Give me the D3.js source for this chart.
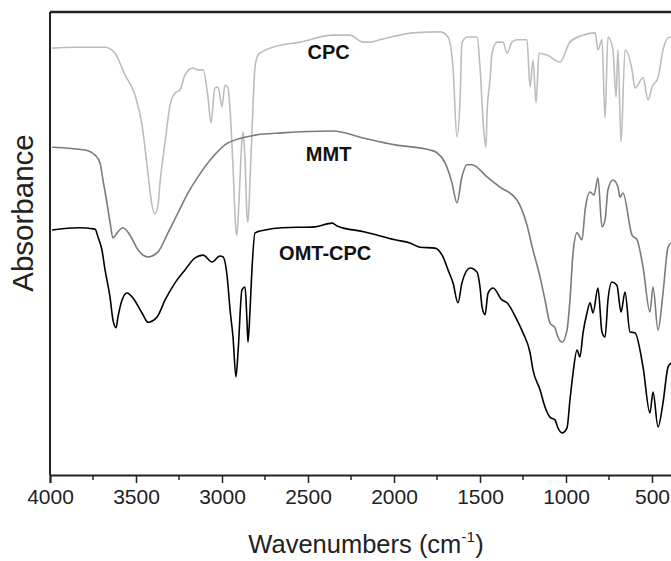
<!DOCTYPE html>
<html>
<head>
<meta charset="utf-8">
<script src="https://cdn.jsdelivr.net/npm/d3@7"></script>
<style>
  html, body { margin: 0; padding: 0; background: #fff; }
  svg { display: block; font-family: Arial, 'Liberation Sans', sans-serif; }
</style>
</head>
<body>
<svg id="chart" width="671" height="561"></svg>
<script>
// wavenumbers (cm-1) and absorbance (a.u., stacked)
const cpcWn = [3988, 3855, 3680, 3622, 3564, 3506, 3465, 3436, 3407, 3390, 3372, 3360, 3331, 3302, 3273, 3244, 3215, 3169, 3140, 3110, 3081, 3064, 3041, 3023, 3000, 2983, 2965, 2953, 2936, 2919, 2913, 2901, 2884, 2878, 2866, 2855, 2849, 2837, 2826, 2808, 2791, 2767, 2703, 2547, 2355, 2256, 2180, 2140, 2081, 1890, 1733, 1686, 1657, 1634, 1616, 1605, 1576, 1517, 1500, 1477, 1465, 1459, 1442, 1430, 1401, 1366, 1343, 1314, 1285, 1227, 1209, 1192, 1174, 1157, 1110, 1035, 977, 901, 831, 814, 791, 773, 756, 727, 709, 698, 680, 657, 616, 599, 552, 523, 500, 465, 436, 407, 390]
const cpcAbs = [92.2, 92.4, 92.4, 91.1, 86.4, 82.1, 75.6, 67.0, 58.3, 56.4, 58.3, 63.3, 71.9, 79.9, 82.5, 83.2, 86.4, 87.9, 87.5, 87.5, 81.4, 76.0, 83.6, 83.8, 79.5, 84.2, 83.6, 78.8, 66.5, 52.9, 51.8, 59.4, 72.4, 74.1, 68.0, 56.2, 54.6, 63.7, 73.9, 88.1, 90.7, 91.4, 92.4, 93.5, 95.0, 95.0, 93.5, 93.5, 94.0, 95.5, 95.7, 94.6, 88.1, 73.0, 81.0, 93.3, 94.6, 94.6, 88.1, 73.9, 70.8, 78.2, 85.3, 91.1, 93.5, 93.5, 91.1, 93.5, 94.0, 94.0, 83.8, 89.6, 80.4, 91.1, 90.7, 89.2, 93.5, 95.0, 95.5, 91.8, 94.0, 77.1, 94.6, 91.8, 81.6, 91.8, 71.9, 91.8, 87.5, 83.6, 85.8, 81.0, 83.8, 85.8, 91.8, 94.4, 94.6]

const mmtWn = [3988, 3797, 3738, 3709, 3692, 3669, 3651, 3634, 3610, 3576, 3535, 3488, 3430, 3372, 3314, 3256, 3198, 3140, 3058, 2983, 2884, 2808, 2651, 2355, 2180, 1994, 1791, 1750, 1703, 1663, 1634, 1605, 1576, 1547, 1459, 1384, 1285, 1227, 1192, 1151, 1122, 1093, 1064, 1047, 1023, 994, 977, 959, 936, 907, 889, 860, 837, 814, 791, 773, 756, 727, 698, 686, 669, 616, 587, 552, 512, 494, 465, 436, 407, 390]
const mmtAbs = [70.8, 70.2, 69.1, 67.4, 63.7, 58.8, 54.6, 51.2, 52.3, 53.4, 51.8, 48.6, 47.1, 48.2, 52.3, 56.6, 60.9, 64.4, 68.5, 71.3, 72.8, 73.4, 73.9, 74.3, 72.8, 71.3, 70.2, 69.6, 67.4, 63.1, 58.8, 64.4, 67.0, 67.0, 64.4, 62.2, 59.4, 54.0, 48.6, 42.8, 37.8, 32.8, 31.8, 29.8, 28.7, 31.3, 37.8, 48.0, 52.3, 50.8, 57.2, 61.1, 60.5, 64.2, 53.6, 55.1, 61.6, 63.7, 62.2, 60.0, 60.9, 51.8, 50.8, 44.9, 35.2, 40.6, 31.3, 39.3, 49.2, 50.1]

const omtWn = [3988, 3837, 3738, 3721, 3698, 3680, 3651, 3634, 3616, 3605, 3581, 3552, 3517, 3465, 3430, 3378, 3331, 3273, 3215, 3157, 3110, 3058, 3012, 2994, 2971, 2953, 2936, 2919, 2907, 2884, 2866, 2855, 2849, 2837, 2826, 2808, 2750, 2651, 2459, 2360, 2331, 2169, 1994, 1907, 1849, 1762, 1715, 1686, 1657, 1628, 1605, 1558, 1517, 1500, 1488, 1471, 1453, 1424, 1372, 1343, 1285, 1250, 1209, 1192, 1151, 1122, 1093, 1064, 1047, 1023, 994, 977, 959, 936, 919, 901, 878, 860, 843, 814, 791, 773, 756, 733, 704, 680, 657, 628, 599, 552, 512, 494, 465, 436, 407, 390]
const omtAbs = [52.9, 53.4, 53.1, 51.4, 48.6, 44.3, 38.4, 33.5, 31.8, 34.1, 37.8, 39.3, 38.2, 35.0, 33.0, 34.1, 37.8, 41.5, 44.3, 46.9, 47.5, 46.0, 47.3, 47.1, 43.2, 35.6, 29.8, 21.2, 26.4, 40.0, 40.6, 33.5, 28.7, 35.6, 44.3, 52.3, 52.9, 53.4, 53.6, 54.4, 53.8, 52.5, 50.8, 50.1, 49.2, 49.0, 47.1, 44.3, 41.5, 37.2, 41.5, 44.7, 43.8, 40.6, 36.3, 34.6, 39.3, 40.4, 37.8, 37.2, 33.5, 30.7, 26.4, 22.7, 18.4, 14.7, 12.5, 11.9, 10.2, 9.1, 10.2, 16.2, 22.0, 27.0, 25.5, 30.7, 35.0, 37.2, 35.0, 40.4, 30.9, 29.8, 37.8, 41.7, 41.0, 35.2, 39.5, 30.9, 30.7, 23.3, 13.4, 17.9, 10.4, 15.6, 23.3, 24.2]

const seriesNames = ['CPC', 'MMT', 'OMT-CPC']
const xTicks = [4000, 3500, 3000, 2500, 2000, 1500, 1000, 500]
const xMinorTicks = [3750, 3250, 2750, 2250, 1750, 1250, 750]

const margin = { top: 12, left: 50, bottom: 86 }
const width = 671
const height = 561
const _h = height - margin.top - margin.bottom

const svg = d3.select('#chart')

const x = d3.scaleLinear().domain([4000, 380]).range([margin.left, margin.left + 3620 * 0.172])
const y = d3.scaleLinear().domain([0, 100]).range([margin.top + _h, margin.top])

const series = [
  { name: seriesNames[0], wn: cpcWn, ab: cpcAbs, color: '#bdbdbd', labelWn: 2380, labelAb: 89.8 },
  { name: seriesNames[1], wn: mmtWn, ab: mmtAbs, color: '#7b7b7b', labelWn: 2380, labelAb: 67.8 },
  { name: seriesNames[2], wn: omtWn, ab: omtAbs, color: '#000', labelWn: 2400, labelAb: 46.4 },
]

const line = d3.line()
  .x((d) => x(d[0]))
  .y((d) => y(d[1]))
  .curve(d3.curveMonotoneX)

svg.append('g')
  .selectAll('path')
  .data(series)
  .join('path')
  .attr('fill', 'none')
  .attr('stroke', (d) => d.color)
  .attr('stroke-width', 1.6)
  .attr('stroke-linejoin', 'round')
  .attr('d', (d) => line(d3.zip(d.wn, d.ab)))

svg.append('g')
  .selectAll('text')
  .data(series)
  .join('text')
  .attr('x', (d) => x(d.labelWn))
  .attr('y', (d) => y(d.labelAb))
  .attr('text-anchor', 'middle')
  .attr('font-weight', 'bold')
  .attr('font-size', 20)
  .attr('fill', '#111')
  .text((d) => d.name)

// frame: top, left, bottom
svg.append('line')
  .attr('x1', margin.left).attr('x2', width)
  .attr('y1', y(100)).attr('y2', y(100))
  .attr('stroke', '#222').attr('stroke-width', 2.5)

svg.append('line')
  .attr('x1', margin.left).attr('x2', margin.left)
  .attr('y1', y(100)).attr('y2', y(0))
  .attr('stroke', '#222').attr('stroke-width', 2)

const xAxis = d3.axisBottom(x).tickValues(xTicks).tickSize(8).tickPadding(6).tickFormat(d3.format('d'))

const gx = svg.append('g')
  .attr('transform', `translate(0,${y(0)})`)
  .call(xAxis)
gx.select('.domain').attr('stroke', '#222').attr('stroke-width', 2)
gx.selectAll('.tick line').attr('stroke', '#222').attr('stroke-width', 1.5)
gx.selectAll('.tick text')
  .attr('font-size', 21)
  .attr('font-family', 'Arial, Liberation Sans, sans-serif')
  .attr('fill', '#222')

gx.selectAll('.minor')
  .data(xMinorTicks)
  .join('line')
  .attr('class', 'minor')
  .attr('x1', (d) => x(d)).attr('x2', (d) => x(d))
  .attr('y1', 0).attr('y2', 5)
  .attr('stroke', '#222').attr('stroke-width', 1.5)

const xTitle = svg.append('text')
  .attr('x', 366)
  .attr('y', 553)
  .attr('text-anchor', 'middle')
  .attr('font-size', 25.5)
  .attr('fill', '#222')
xTitle.append('tspan').text('Wavenumbers (cm')
xTitle.append('tspan').attr('font-size', 15.5).attr('dy', -11).text('-1')
xTitle.append('tspan').attr('dy', 11).text(')')

svg.append('text')
  .attr('transform', `translate(33,${213}) rotate(-90)`)
  .attr('text-anchor', 'middle')
  .attr('font-size', 29.5)
  .attr('fill', '#222')
  .text('Absorbance')
</script>
</body>
</html>
